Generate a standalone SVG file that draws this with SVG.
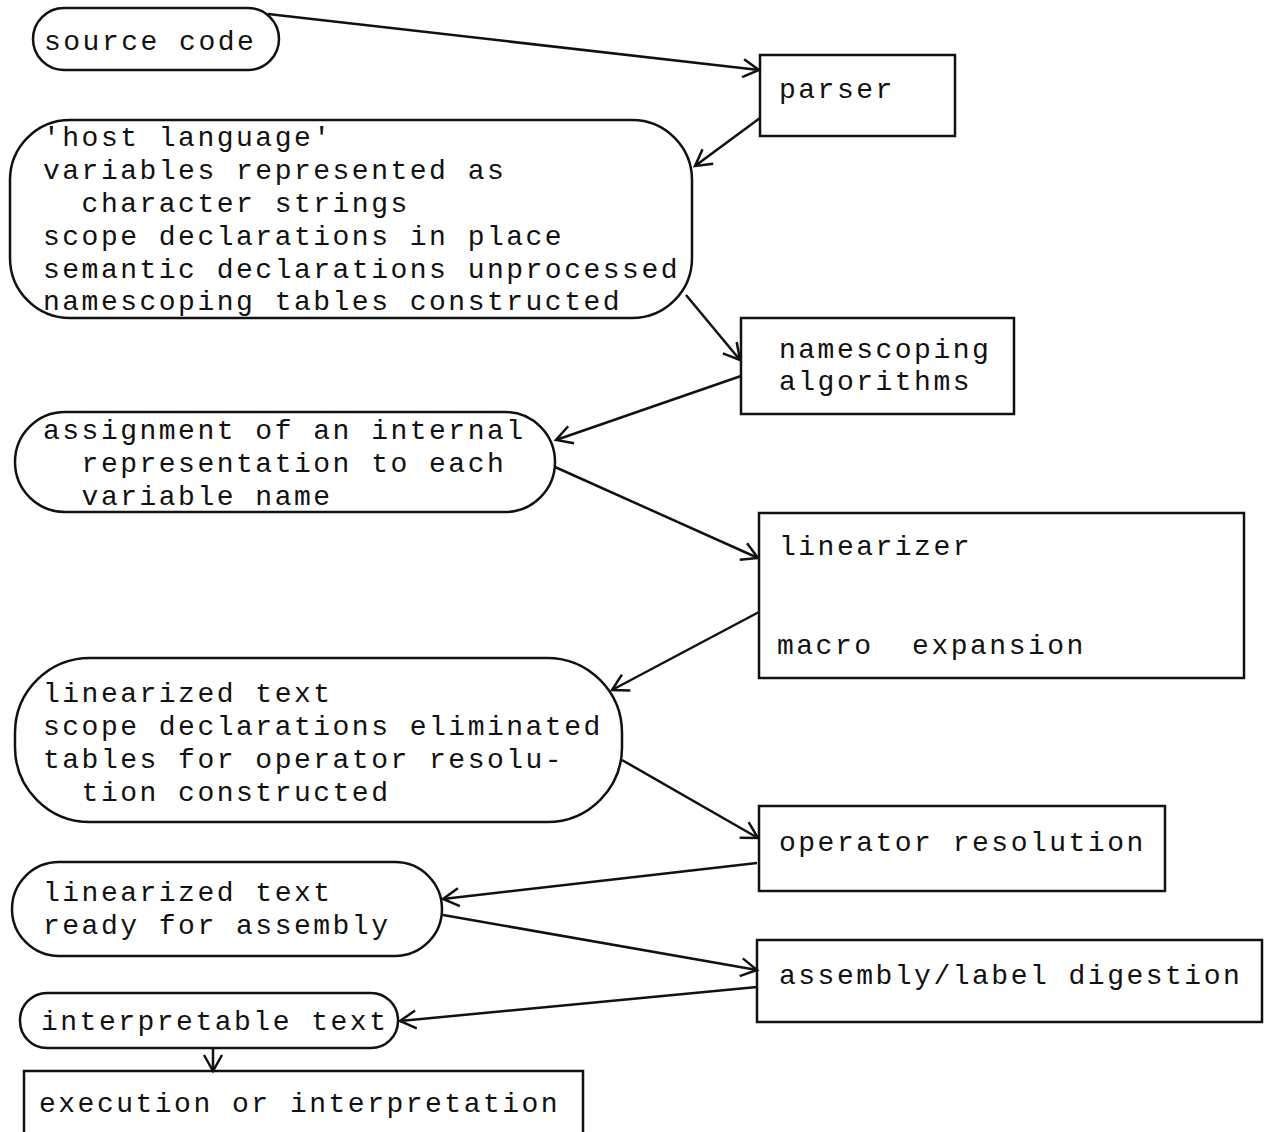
<svg xmlns="http://www.w3.org/2000/svg" width="1266" height="1132" viewBox="0 0 1266 1132">
<style>
.s{fill:none;stroke:#111;stroke-width:2.5}
.t{font-family:"Liberation Mono","DejaVu Sans Mono",monospace;font-size:28px;letter-spacing:2.5px;fill:#111;white-space:pre}
.c{fill:none;stroke:#111;stroke-width:2.5;marker-end:url(#ah)}
</style>
<defs>
<marker id="ah" markerUnits="userSpaceOnUse" markerWidth="24" markerHeight="24" refX="20" refY="12" orient="auto" viewBox="0 0 24 24">
<path d="M4,3 L20,12 L4,21" fill="none" stroke="#111" stroke-width="2.5"/>
</marker>
</defs>
<rect width="1266" height="1132" fill="#fff"/>
<g id="connectors">
<path class="c" d="M268,14 L759,70"/>
<path class="c" d="M760,118 L695,166"/>
<path class="c" d="M686,295 L740,360"/>
<path class="c" d="M741,376 L556,440"/>
<path class="c" d="M555,467 L758,558"/>
<path class="c" d="M759,612 L612,690"/>
<path class="c" d="M622,760 L758,838"/>
<path class="c" d="M757,863 L443,899"/>
<path class="c" d="M443,915 L757,970"/>
<path class="c" d="M757,987 L400,1021"/>
<path class="c" d="M213,1048 L213,1071"/>
</g>
<g id="source-code">
<rect class="s" x="33" y="8" width="246" height="62" rx="31"/>
<text class="t" x="44" y="50" xml:space="preserve">source code</text>
</g>
<g id="parser">
<rect class="s" x="760" y="55" width="195" height="81"/>
<text class="t" x="779" y="98" xml:space="preserve">parser</text>
</g>
<g id="host-language">
<rect class="s" x="10" y="120" width="682" height="198" rx="60"/>
<text class="t" x="43" y="146" xml:space="preserve">'host language'</text>
<text class="t" x="43" y="179" xml:space="preserve">variables represented as</text>
<text class="t" x="43" y="212" xml:space="preserve">  character strings</text>
<text class="t" x="43" y="245" xml:space="preserve">scope declarations in place</text>
<text class="t" x="43" y="278" xml:space="preserve">semantic declarations unprocessed</text>
<text class="t" x="43" y="310" xml:space="preserve">namescoping tables constructed</text>
</g>
<g id="namescoping">
<rect class="s" x="741" y="318" width="273" height="96"/>
<text class="t" x="779" y="358" xml:space="preserve">namescoping</text>
<text class="t" x="779" y="390" xml:space="preserve">algorithms</text>
</g>
<g id="assignment">
<rect class="s" x="15" y="412" width="540" height="100" rx="50"/>
<text class="t" x="43" y="439" xml:space="preserve">assignment of an internal</text>
<text class="t" x="43" y="472" xml:space="preserve">  representation to each</text>
<text class="t" x="43" y="505" xml:space="preserve">  variable name</text>
</g>
<g id="linearizer">
<rect class="s" x="759" y="513" width="485" height="165"/>
<text class="t" x="779" y="555" xml:space="preserve">linearizer</text>
<text class="t" x="777" y="654" xml:space="preserve">macro  expansion</text>
</g>
<g id="linearized-text">
<rect class="s" x="15" y="658" width="607" height="164" rx="75"/>
<text class="t" x="43" y="702" xml:space="preserve">linearized text</text>
<text class="t" x="43" y="735" xml:space="preserve">scope declarations eliminated</text>
<text class="t" x="43" y="768" xml:space="preserve">tables for operator resolu-</text>
<text class="t" x="43" y="801" xml:space="preserve">  tion constructed</text>
</g>
<g id="operator-resolution">
<rect class="s" x="759" y="806" width="406" height="85"/>
<text class="t" x="779" y="851" xml:space="preserve">operator resolution</text>
</g>
<g id="ready-for-assembly">
<rect class="s" x="12" y="862" width="430" height="94" rx="47"/>
<text class="t" x="43" y="901" xml:space="preserve">linearized text</text>
<text class="t" x="43" y="934" xml:space="preserve">ready for assembly</text>
</g>
<g id="assembly">
<rect class="s" x="757" y="940" width="505" height="82"/>
<text class="t" x="779" y="984" xml:space="preserve">assembly/label digestion</text>
</g>
<g id="interpretable-text">
<rect class="s" x="20" y="993" width="378" height="55" rx="27"/>
<text class="t" x="41" y="1030" xml:space="preserve">interpretable text</text>
</g>
<g id="execution">
<path class="s" d="M24,1140 L24,1071 L583,1071 L583,1140"/>
<text class="t" x="39" y="1112" xml:space="preserve">execution or interpretation</text>
</g>
</svg>
